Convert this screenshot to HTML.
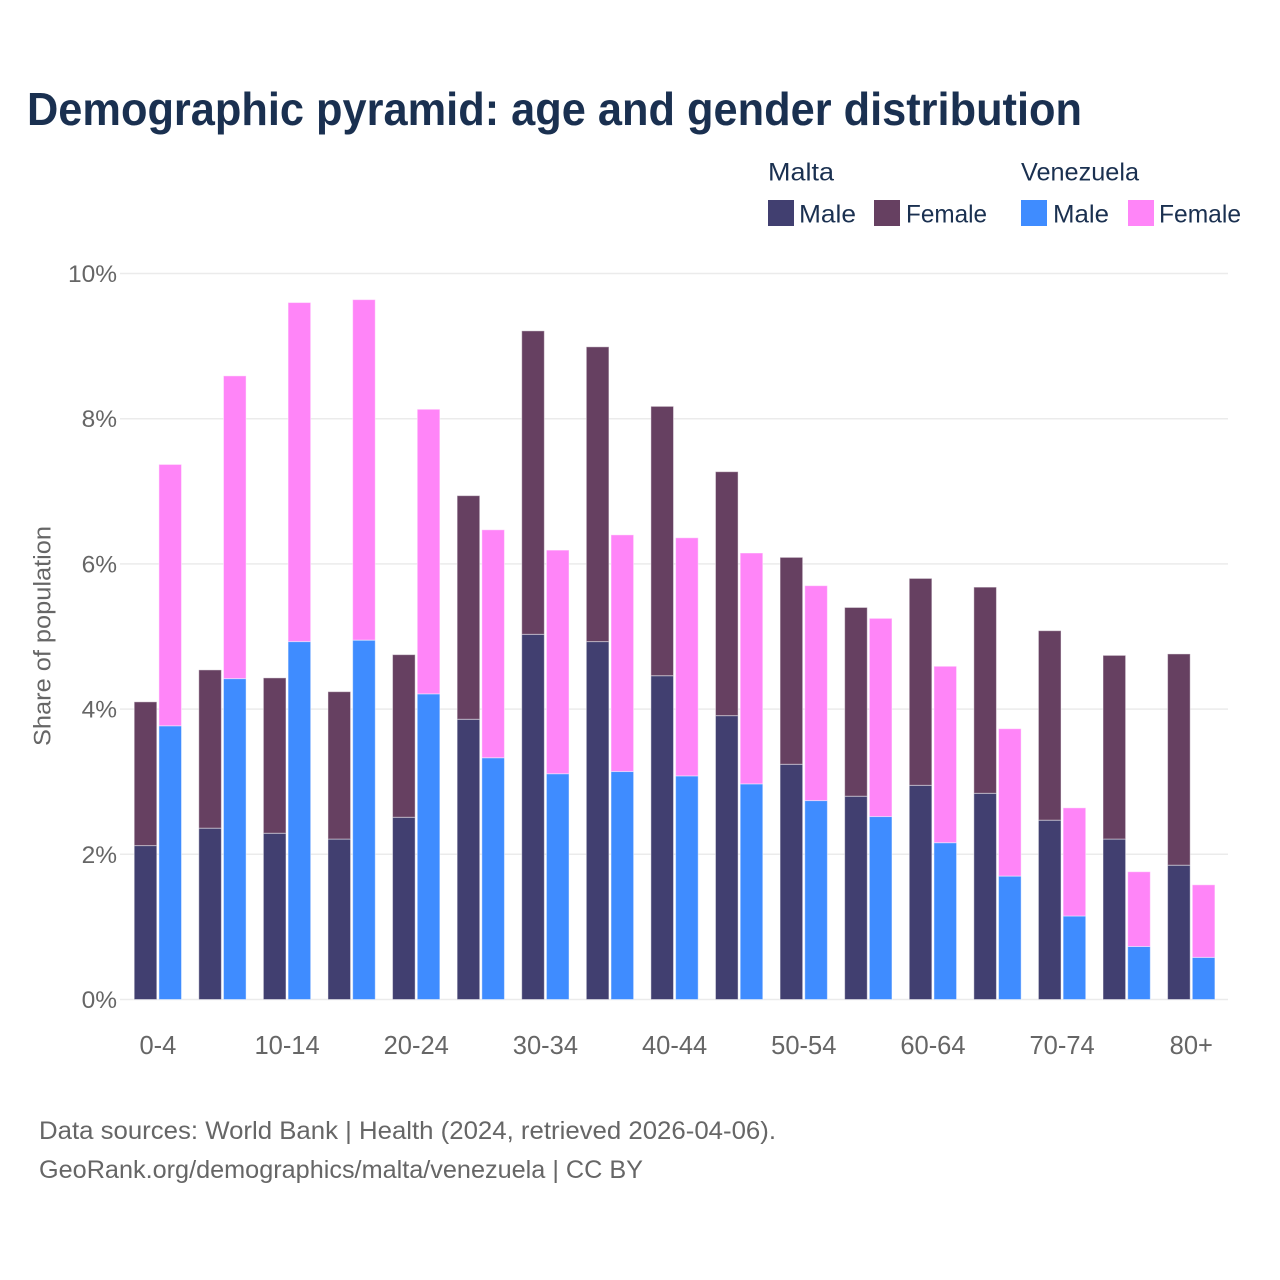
<!DOCTYPE html>
<html lang="en">
<head>
<meta charset="utf-8">
<title>Demographic pyramid: age and gender distribution</title>
<style>
html,body{margin:0;padding:0;background:#fff;}
svg{display:block;font-family:"Liberation Sans",sans-serif;}
</style>
</head>
<body>
<svg id="chart" xmlns="http://www.w3.org/2000/svg" width="1280" height="1280" viewBox="0 0 1280 1280">
  <rect width="1280" height="1280" fill="#fff"/>
  <text x="27" y="125" font-size="46" font-weight="700" fill="#1a3050" textLength="1055" lengthAdjust="spacingAndGlyphs">Demographic pyramid: age and gender distribution</text>

  <g font-size="25" fill="#1a3050">
    <text x="768" y="180.5" textLength="66" lengthAdjust="spacingAndGlyphs">Malta</text>
    <rect x="768" y="200" width="26" height="26" fill="#413f70"/>
    <text x="799" y="222.5" textLength="57" lengthAdjust="spacingAndGlyphs">Male</text>
    <rect x="874" y="200" width="26" height="26" fill="#664061"/>
    <text x="906" y="222.5" textLength="81" lengthAdjust="spacingAndGlyphs">Female</text>
    <text x="1021" y="180.5" textLength="118" lengthAdjust="spacingAndGlyphs">Venezuela</text>
    <rect x="1021" y="200" width="26" height="26" fill="#3f8cff"/>
    <text x="1053" y="222.5" textLength="56" lengthAdjust="spacingAndGlyphs">Male</text>
    <rect x="1128" y="200" width="26" height="26" fill="#ff85f8"/>
    <text x="1159" y="222.5" textLength="82" lengthAdjust="spacingAndGlyphs">Female</text>
  </g>

  <g id="grid"></g>
  <g id="bars"></g>
  <g id="yticks"></g>
  <g id="xticks"></g>

  <text transform="translate(50.5,746) rotate(-90)" font-size="24" fill="#666" textLength="220" lengthAdjust="spacingAndGlyphs">Share of population</text>

  <text x="39" y="1139" font-size="25" fill="#666" textLength="737" lengthAdjust="spacingAndGlyphs">Data sources: World Bank | Health (2024, retrieved 2026-04-06).</text>
  <text x="39" y="1178" font-size="25" fill="#666" textLength="604" lengthAdjust="spacingAndGlyphs">GeoRank.org/demographics/malta/venezuela | CC BY</text>
</svg>
<script>
const categories = ["0-4","5-9","10-14","15-19","20-24","25-29","30-34","35-39","40-44","45-49","50-54","55-59","60-64","65-69","70-74","75-79","80+"];
const maltaMale = [2.12,2.36,2.29,2.21,2.51,3.86,5.03,4.93,4.46,3.91,3.24,2.80,2.95,2.84,2.47,2.21,1.85];
const maltaFemale = [1.98,2.18,2.14,2.03,2.24,3.08,4.18,4.06,3.71,3.36,2.85,2.60,2.85,2.84,2.61,2.53,2.91];
const venezuelaMale = [3.77,4.42,4.93,4.95,4.21,3.33,3.11,3.14,3.08,2.97,2.74,2.52,2.16,1.70,1.15,0.73,0.58];
const venezuelaFemale = [3.60,4.17,4.67,4.69,3.92,3.14,3.08,3.26,3.28,3.18,2.96,2.73,2.43,2.03,1.49,1.03,1.00];
const yTickValues = [0,2,4,6,8,10];
const yTickLabels = ["0%","2%","4%","6%","8%","10%"];
const xTickLabels = ["0-4","","10-14","","20-24","","30-34","","40-44","","50-54","","60-64","","70-74","","80+"];

const NS = "http://www.w3.org/2000/svg";
function yScale(v){ return 999.5 - v * 72.6; }
function xCenter(i){ return 157.9 + i * (1033.4 / (categories.length - 1)); }
function make(tag, attrs, parent){
  const el = document.createElementNS(NS, tag);
  for (const k in attrs) el.setAttribute(k, attrs[k]);
  parent.appendChild(el);
  return el;
}
const grid = document.getElementById("grid");
const yticks = document.getElementById("yticks");
const xticks = document.getElementById("xticks");
const bars = document.getElementById("bars");

yTickValues.forEach(function(v, i){
  const line = make("line", {x1:120, x2:1228, y1:yScale(v), y2:yScale(v), stroke:"#ebebeb", "stroke-width":1.5}, grid);
  
  
  const t = make("text", {x:117, y:yScale(v)+8.5, "text-anchor":"end", "font-size":24.5, fill:"#666"}, yticks);
  
  
  t.textContent = yTickLabels[i];
});

xTickLabels.forEach(function(label, i){
  if (!label) return;
  const t = make("text", {x:xCenter(i), y:1054, "text-anchor":"middle", "font-size":25.5, fill:"#666"}, xticks);
  
  
  t.textContent = label;
});

function segment(x, w, v0, v1, fill, parent){
  const top = yScale(v0 + v1), bottom = yScale(v0);
  const r = make("rect", {x:x, y:top, width:w, height:bottom - top, fill:fill, stroke:"#fff", "stroke-opacity":0.45, "stroke-width":1}, parent);
  return r;
}
categories.forEach(function(c, i){
  const cx = xCenter(i);
  const g = make("g", {}, bars);
  
  
  const mx = cx - 23.7, vx = cx + 1, w = 22.6;
  const a = segment(mx, w, 0, maltaMale[i], "#413f70", g);
  
  
  const b = segment(mx, w, maltaMale[i], maltaFemale[i], "#664061", g);
  
  
  const d = segment(vx, w, 0, venezuelaMale[i], "#3f8cff", g);
  
  
  const e = segment(vx, w, venezuelaMale[i], venezuelaFemale[i], "#ff85f8", g);
  
  
});
</script>
</body>
</html>
